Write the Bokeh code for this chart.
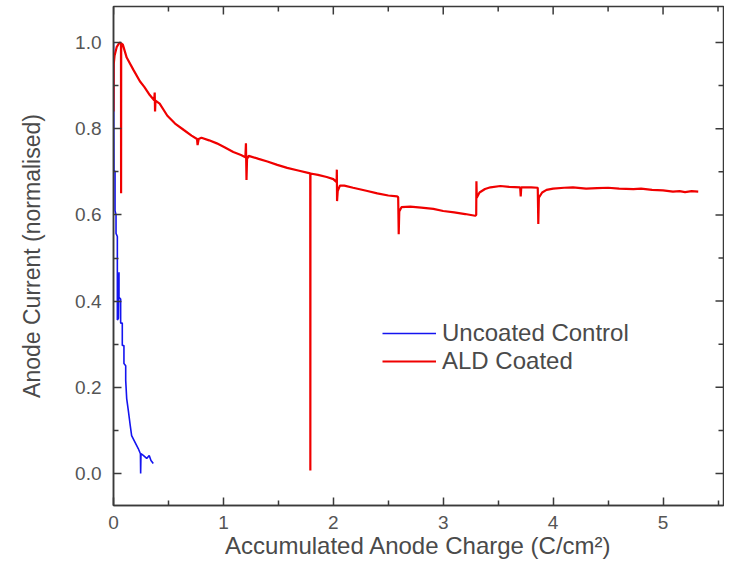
import math
from bokeh.plotting import figure
from bokeh.models import (Range1d, FixedTicker, PrintfTickFormatter, LinearAxis,
                          Legend, LegendItem, ColumnDataSource)
from bokeh.embed import file_html
from bokeh.resources import INLINE

# ---- data ----
uncoated_x = [0.000, 0.001, 0.002, 0.004, 0.014, 0.014, 0.023, 0.023, 0.035, 0.035,
              0.045, 0.050, 0.050, 0.065, 0.065, 0.080, 0.080, 0.095, 0.095, 0.111,
              0.111, 0.120, 0.135, 0.150, 0.165, 0.195, 0.225, 0.245, 0.247, 0.250,
              0.271, 0.302, 0.325, 0.341, 0.362]
uncoated_y = [1.000, 0.950, 0.850, 0.704, 0.700, 0.610, 0.600, 0.557, 0.550, 0.356,
              0.360, 0.467, 0.409, 0.405, 0.349, 0.349, 0.297, 0.297, 0.255, 0.250,
              0.216, 0.174, 0.146, 0.116, 0.088, 0.073, 0.058, 0.046, 0.000, 0.046,
              0.042, 0.035, 0.042, 0.030, 0.023]

coated_x = [0.000, 0.002, 0.010, 0.030, 0.055, 0.068, 0.069, 0.070, 0.085, 0.120,
            0.180, 0.240, 0.280, 0.330, 0.370, 0.375, 0.378, 0.382, 0.420, 0.490,
            0.560, 0.640, 0.710, 0.760, 0.765, 0.775, 0.800, 0.870, 0.940, 1.010,
            1.090, 1.160, 1.200, 1.205, 1.210, 1.215, 1.230, 1.320, 1.400, 1.490,
            1.580, 1.680, 1.780, 1.790, 1.791, 1.792, 1.860, 1.940, 2.000, 2.030,
            2.032, 2.034, 2.040, 2.060, 2.100, 2.180, 2.300, 2.400, 2.500, 2.580,
            2.590, 2.595, 2.600, 2.620, 2.700, 2.800, 2.910, 3.000, 3.100, 3.200,
            3.290, 3.300, 3.302, 3.305, 3.330, 3.380, 3.430, 3.520, 3.600, 3.700,
            3.705, 3.710, 3.800, 3.860, 3.865, 3.870, 3.900, 3.940, 4.000, 4.100,
            4.180, 4.300, 4.400, 4.500, 4.600, 4.730, 4.800, 4.900, 5.000, 5.090,
            5.150, 5.200, 5.260, 5.320]
coated_y = [0.840, 0.950, 0.970, 0.990, 1.000, 0.998, 0.650, 0.998, 0.995, 0.965,
            0.937, 0.910, 0.897, 0.878, 0.866, 0.884, 0.840, 0.865, 0.858, 0.830,
            0.812, 0.797, 0.784, 0.776, 0.762, 0.776, 0.779, 0.773, 0.766, 0.757,
            0.746, 0.739, 0.734, 0.766, 0.681, 0.730, 0.737, 0.730, 0.724, 0.716,
            0.709, 0.703, 0.697, 0.696, 0.007, 0.696, 0.693, 0.688, 0.683, 0.676,
            0.705, 0.632, 0.655, 0.668, 0.668, 0.663, 0.656, 0.650, 0.645, 0.643,
            0.641, 0.555, 0.608, 0.618, 0.619, 0.617, 0.614, 0.609, 0.606, 0.602,
            0.598, 0.600, 0.678, 0.640, 0.652, 0.660, 0.664, 0.667, 0.665, 0.664,
            0.643, 0.664, 0.664, 0.663, 0.579, 0.640, 0.652, 0.658, 0.661, 0.663,
            0.664, 0.661, 0.662, 0.663, 0.661, 0.660, 0.661, 0.658, 0.657, 0.654,
            0.655, 0.653, 0.655, 0.654]

x_ticks = [0, 1, 2, 3, 4, 5]
x_minor = [0.5, 1.5, 2.5, 3.5, 4.5, 5.5]
y_ticks = [0.0, 0.2, 0.4, 0.6, 0.8, 1.0]
y_minor = [0.1, 0.3, 0.5, 0.7, 0.9]

X_START, X_END = 0.0, 5.55
Y_START, Y_END = -0.0742, 1.0835

AX = "#3a3a3a"
TXT = "#4a4a4a"
FONT = "Liberation Sans"

p = figure(width=724, height=565, output_backend="svg", toolbar_location=None,
           x_range=Range1d(X_START, X_END), y_range=Range1d(Y_START, Y_END),
           x_axis_type=None, y_axis_type=None,
           min_border_left=113, min_border_right=1, min_border_top=6,
           min_border_bottom=60)
p.xgrid.visible = False
p.ygrid.visible = False
p.outline_line_color = AX
p.outline_line_width = 1.5
p.background_fill_color = "white"
p.border_fill_color = "white"

xt = FixedTicker(ticks=x_ticks, minor_ticks=x_minor)
yt = FixedTicker(ticks=y_ticks, minor_ticks=y_minor)


def style(ax, label_size):
    ax.axis_line_color = AX
    ax.axis_line_width = 1.5
    ax.major_tick_line_color = AX
    ax.minor_tick_line_color = AX
    ax.major_tick_line_width = 1.5
    ax.minor_tick_line_width = 1.5
    ax.major_tick_in = 8
    ax.major_tick_out = 0
    ax.minor_tick_in = 5
    ax.minor_tick_out = 0
    ax.major_label_text_font = FONT
    ax.major_label_text_font_size = "19px"
    ax.major_label_text_color = "#555555"
    ax.axis_label_text_font = FONT
    ax.axis_label_text_font_size = label_size
    ax.axis_label_text_font_style = "normal"
    ax.axis_label_text_color = TXT


xb = LinearAxis(ticker=xt, axis_label="Accumulated Anode Charge (C/cm\u00b2)")
style(xb, "24px")
xb.major_label_standoff = 10
xb.axis_label_standoff = 0
p.add_layout(xb, "below")

yl = LinearAxis(ticker=yt, formatter=PrintfTickFormatter(format="%.1f"),
                axis_label="Anode Current (normalised)")
style(yl, "23px")
yl.major_label_standoff = 12
yl.axis_label_standoff = 27
p.add_layout(yl, "left")

# mirrored inward ticks on the top and right edges (clipped to the frame)
p.scatter(x=x_ticks, y=[Y_END] * len(x_ticks), marker="dash", angle=math.pi / 2,
          size=16, line_color=AX, line_width=1.5)
p.scatter(x=x_minor, y=[Y_END] * len(x_minor), marker="dash", angle=math.pi / 2,
          size=10, line_color=AX, line_width=1.5)
p.scatter(x=[X_END] * len(y_ticks), y=y_ticks, marker="dash",
          size=16, line_color=AX, line_width=1.5)
p.scatter(x=[X_END] * len(y_minor), y=y_minor, marker="dash",
          size=10, line_color=AX, line_width=1.5)

src_u = ColumnDataSource(dict(x=uncoated_x, y=uncoated_y))
src_c = ColumnDataSource(dict(x=coated_x, y=coated_y))
r_u = p.line("x", "y", source=src_u, line_color="#1414f0", line_width=1.6)
r_c = p.line("x", "y", source=src_c, line_color="#f00000", line_width=2.2)

legend = Legend(items=[LegendItem(label="Uncoated Control", renderers=[r_u]),
                       LegendItem(label="ALD Coated", renderers=[r_c])],
                location=(269, 130), glyph_width=54, glyph_height=20,
                label_standoff=6, spacing=0, padding=0, margin=0,
                border_line_alpha=0, background_fill_alpha=0,
                label_text_font=FONT, label_text_font_size="24px",
                label_text_color=TXT)
p.add_layout(legend)

open("out.html", "w").write(file_html(p, INLINE))
